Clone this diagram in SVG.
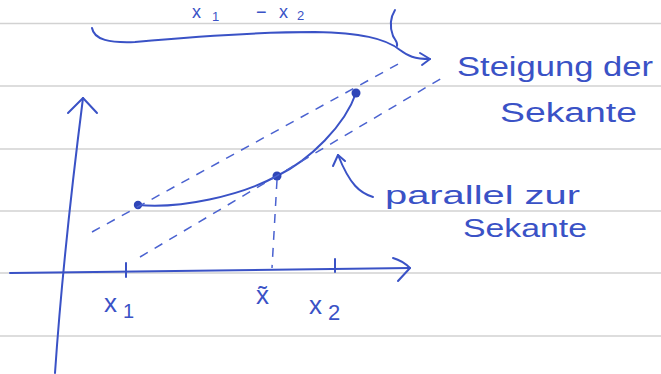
<svg xmlns="http://www.w3.org/2000/svg" width="661" height="374" viewBox="0 0 661 374">
<defs>
<style>
.rule{stroke:#d2d2d2;stroke-width:1.6;fill:none}
.pen{stroke:#3a52c6;stroke-width:2;fill:none;stroke-linecap:round;stroke-linejoin:round}
.dash{stroke:#4a62d0;stroke-width:1.5;fill:none;stroke-dasharray:9 8}
.dot{fill:#2f46b8}
.hand{font-family:"Liberation Sans","DejaVu Sans",sans-serif;fill:#3a52c6}
</style>
</defs>
<rect width="661" height="374" fill="#ffffff"/>
<g id="paper">
<line class="rule" x1="0" y1="23.5" x2="661" y2="23.5"/>
<line class="rule" x1="0" y1="86" x2="661" y2="86"/>
<line class="rule" x1="0" y1="149" x2="661" y2="149"/>
<line class="rule" x1="0" y1="211" x2="661" y2="211"/>
<line class="rule" x1="0" y1="273" x2="661" y2="273"/>
<line class="rule" x1="0" y1="336" x2="661" y2="336"/>
</g>
<g id="axes">
<path class="pen" d="M55,373 C60,300 70,200 83,98"/>
<path class="pen" d="M68,113 L83,98 L97,113"/>
<path class="pen" d="M10,273 C150,271 300,270 410,268"/>
<path class="pen" d="M393,258 C400,260 406,264 410,268 L398,281"/>
<path class="pen" d="M126,263 L126,277"/>
<path class="pen" d="M335,259 L335,272"/>
</g>
<g id="graph">
<path class="pen" d="M138,205 C180,209 240,196 277,176 C310,160 345,125 356,93"/>
<circle class="dot" cx="138" cy="205" r="4.2"/>
<circle class="dot" cx="277" cy="176" r="4.5"/>
<circle class="dot" cx="356" cy="93" r="4.5"/>
</g>
<g id="connectors">
<line class="dash" x1="92" y1="232" x2="400" y2="63"/>
<line class="dash" x1="140" y1="257" x2="447" y2="75"/>
<line class="dash" x1="277" y1="180" x2="272" y2="268"/>
<path class="pen" d="M92,28 C94,40 110,43 135,42 C200,36 260,32 315,32 C360,33 385,38 400,50 C408,56 414,59 430,59"/>
<path class="pen" d="M420,53 L430,59 L422,65"/>
<path class="pen" d="M395,10 C390,18 390,28 393,36 C395,40 398,42 397,46"/>
<path class="pen" d="M373,197 C360,193 350,185 338,155"/>
<path class="pen" d="M333,166 L338,155 L345,161"/>
</g>
<g id="labels">
<text class="hand" y="18" font-size="18"><tspan x="192">x</tspan><tspan x="212" y="21" font-size="13">1</tspan><tspan x="256" y="18">−</tspan><tspan x="279">x</tspan><tspan x="297" y="20" font-size="13">2</tspan></text>
<text class="hand" x="104" y="312" font-size="26">x<tspan font-size="20" dx="6" dy="6">1</tspan></text>
<text class="hand" x="256" y="304" font-size="26">x&#771;</text>
<text class="hand" x="309" y="314" font-size="26">x<tspan font-size="22" dx="6" dy="6">2</tspan></text>
<text class="hand" x="457" y="76" font-size="27" textLength="196" lengthAdjust="spacingAndGlyphs">Steigung der</text>
<text class="hand" x="500" y="122" font-size="27" textLength="137" lengthAdjust="spacingAndGlyphs">Sekante</text>
<text class="hand" x="385" y="204" font-size="25" textLength="195" lengthAdjust="spacingAndGlyphs">parallel zur</text>
<text class="hand" x="463" y="237" font-size="25" textLength="124" lengthAdjust="spacingAndGlyphs">Sekante</text>
</g>
</svg>
